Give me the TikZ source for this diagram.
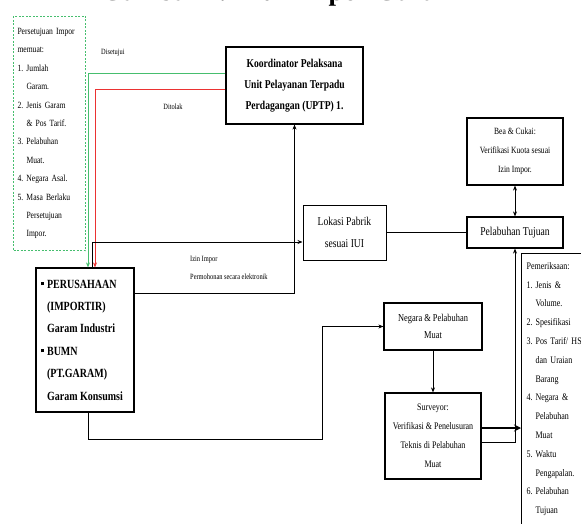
\documentclass[tikz,border=0pt]{standalone}
\usepackage{fontspec}
\setmainfont[FakeStretch=0.8]{Liberation Serif}
\newfontfamily\ttlfont{Liberation Serif}
\usetikzlibrary{arrows.meta}
\definecolor{okG}{RGB}{70,190,110}
\definecolor{noR}{RGB}{235,50,50}
\newcommand{\gnum}[2]{\makebox[9pt][l]{#1}#2}
\newcommand{\gcont}[1]{\hspace*{9pt}#1}
\newcommand{\sqb}{\llap{\rule[3pt]{2.8pt}{2.8pt}\hspace{3pt}}}

\begin{document}
\begin{tikzpicture}[x=1pt,y=-1pt,
  box/.style={draw,line width=1.2pt,inner sep=2pt,align=center},
  lbl/.style={font=\fontsize{8}{9}\selectfont,inner sep=0pt},
  lnk/.style={line width=0.9pt,-{Stealth[length=5pt,width=4pt]}},
  bold lnk/.style={line width=2.5pt,-{Stealth[length=7pt,width=7pt]}}]
\useasboundingbox (0,0) rectangle (581,524); \clip (0,0) rectangle (581,524);
\node[font=\ttlfont\bfseries\fontsize{27}{30}\selectfont,anchor=base] (ttl) at (280,1) {Gambar 2. Alur Impor Garam};
\node[box,draw=okG,line width=1pt,dash pattern=on 2pt off 1.5pt,anchor=north west,minimum height=234,text width=64,inner xsep=4pt,align=left,font=\fontsize{9.5}{18.4}\selectfont] (syarat) at (13,16)
  {Persetujuan Impor\\memuat:\\\gnum{1.}{Jumlah}\\\gcont{Garam.}\\\gnum{2.}{Jenis Garam}\\\gcont{\& Pos Tarif.}\\\gnum{3.}{Pelabuhan}\\\gcont{Muat.}\\\gnum{4.}{Negara Asal.}\\\gnum{5.}{Masa Berlaku}\\\gcont{Persetujuan}\\\gcont{Impor.}};
\node[box,minimum width=137,minimum height=77,font=\bfseries\fontsize{12}{21}\selectfont] (koor) at (294.5,85.5) {Koordinator Pelaksana\\Unit Pelayanan Terpadu\\Perdagangan (UPTP) 1.};
\node[box,minimum width=98,minimum height=144,align=left,font=\bfseries\fontsize{12.5}{22.4}\selectfont] (firm) at (85,340) {\sqb PERUSAHAAN\\(IMPORTIR)\\Garam Industri\\\sqb BUMN\\(PT.GARAM)\\Garam Konsumsi};
\node[box,line width=1pt,minimum width=83,minimum height=55,font=\fontsize{12}{22}\selectfont] (lokasi) at (344.5,232.5) {Lokasi Pabrik\\sesuai IUI};
\node[box,minimum width=96,minimum height=67,font=\fontsize{9.5}{19}\selectfont] (bea) at (515,151.5) {Bea \& Cukai:\\Verifikasi Kuota sesuai\\Izin Impor.};
\node[box,minimum width=96,minimum height=31,font=\fontsize{12}{14}\selectfont] (tujuan) at (515,232.5) {Pelabuhan Tujuan};
\node[box,minimum width=98,minimum height=47,font=\fontsize{10.5}{17}\selectfont] (negara) at (433,326.5) {Negara \& Pelabuhan\\Muat};
\node[box,minimum width=96,minimum height=86,font=\fontsize{10}{19}\selectfont] (survey) at (433,436) {Surveyor:\\Verifikasi \& Penelusuran\\Teknis di Pelabuhan\\Muat};
\node[box,anchor=north west,minimum height=271,text width=80,inner xsep=5pt,align=left,font=\fontsize{10}{18.8}\selectfont] (periksa) at (521,253)
  {Pemeriksaan:\\\gnum{1.}{Jenis \&}\\\gcont{Volume.}\\\gnum{2.}{Spesifikasi}\\\gnum{3.}{Pos Tarif/ HS}\\\gcont{dan Uraian}\\\gcont{Barang}\\\gnum{4.}{Negara \&}\\\gcont{Pelabuhan}\\\gcont{Muat}\\\gnum{5.}{Waktu}\\\gcont{Pengapalan.}\\\gnum{6.}{Pelabuhan}\\\gcont{Tujuan}};
\node[lbl,anchor=west] (setuju) at (101,53) {Disetujui};
\node[lbl] (tolak) at (173,107) {Ditolak};
\node[lbl,anchor=west] (izin) at (190,260) {Izin Impor};
\node[lbl,anchor=west] (mohon) at (190,277) {Permohonan secara elektronik};
\draw[lnk,okG] ([yshift=12.5pt]koor.west) -| ([xshift=3pt]firm.north);
\draw[lnk,noR] ([yshift=-3.5pt]koor.west) -| ([xshift=10pt]firm.north);
\draw[lnk] ([xshift=7pt]firm.north) |- ([yshift=-9.5pt]lokasi.west);
\draw[lnk] ([yshift=47pt]firm.east) -| (koor.south);
\coordinate (kink) at (322,439);
\draw[lnk] ([xshift=3pt]firm.south) |- (kink) |- (negara.west);
\draw[line width=1pt] (lokasi.east) -- (tujuan.west);
\draw[line width=0.9pt,{Stealth[length=5pt,width=4pt]}-{Stealth[length=5pt,width=4pt]}] (bea.south) -- (tujuan.north);
\draw[lnk] (negara.south) -- (survey.north);
\coordinate (sv1) at ([yshift=8pt]survey.east); \coordinate (sv2) at ([yshift=-6pt]survey.east);
\draw[bold lnk] (sv1) -- (sv1 -| periksa.west);
\draw[lnk] (sv2) -| (tujuan.south);
\end{tikzpicture}
\end{document}
